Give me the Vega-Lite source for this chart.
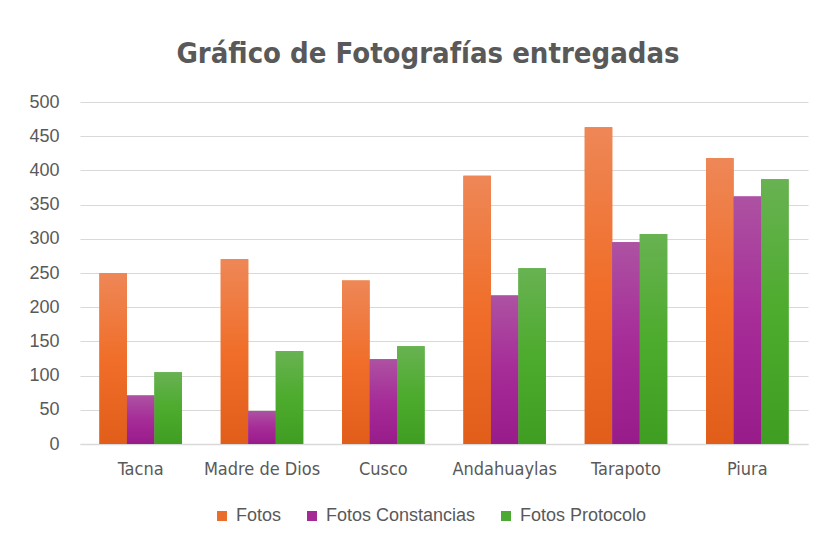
{
  "$schema": "https://vega.github.io/schema/vega-lite/v6.json",
  "autosize": {"type": "none"},
  "width": 728,
  "height": 342,
  "padding": {"left": 80, "top": 102, "right": 16, "bottom": 101},
  "background": "white",
  "config": {"view": {"stroke": null}},
  "title": {
    "text": "Gráfico de Fotografías entregadas",
    "font": "DejaVu Sans Condensed",
    "fontSize": 29,
    "fontWeight": "bold",
    "color": "#595959",
    "anchor": "middle",
    "dx": -16,
    "offset": 24
  },
  "data": {
    "values": [
      {"sede": "Tacna", "serie": "Fotos", "valor": 250},
      {"sede": "Tacna", "serie": "Fotos Constancias", "valor": 71},
      {"sede": "Tacna", "serie": "Fotos Protocolo", "valor": 105},
      {"sede": "Madre de Dios", "serie": "Fotos", "valor": 270},
      {"sede": "Madre de Dios", "serie": "Fotos Constancias", "valor": 48},
      {"sede": "Madre de Dios", "serie": "Fotos Protocolo", "valor": 136},
      {"sede": "Cusco", "serie": "Fotos", "valor": 239},
      {"sede": "Cusco", "serie": "Fotos Constancias", "valor": 124},
      {"sede": "Cusco", "serie": "Fotos Protocolo", "valor": 143},
      {"sede": "Andahuaylas", "serie": "Fotos", "valor": 392},
      {"sede": "Andahuaylas", "serie": "Fotos Constancias", "valor": 217},
      {"sede": "Andahuaylas", "serie": "Fotos Protocolo", "valor": 257},
      {"sede": "Tarapoto", "serie": "Fotos", "valor": 463},
      {"sede": "Tarapoto", "serie": "Fotos Constancias", "valor": 295},
      {"sede": "Tarapoto", "serie": "Fotos Protocolo", "valor": 307},
      {"sede": "Piura", "serie": "Fotos", "valor": 418},
      {"sede": "Piura", "serie": "Fotos Constancias", "valor": 362},
      {"sede": "Piura", "serie": "Fotos Protocolo", "valor": 387}
    ]
  },
  "encoding": {
    "x": {
      "field": "sede",
      "type": "nominal",
      "sort": null,
      "scale": {"paddingInner": 0.32, "paddingOuter": 0.16},
      "axis": {
        "title": null,
        "labelAngle": 0,
        "labelFont": "DejaVu Sans Condensed",
        "labelFontSize": 18,
        "labelColor": "#595959",
        "labelPadding": 16,
        "ticks": false,
        "domainColor": "#D9D9D9",
        "domainWidth": 1.5,
        "grid": false
      }
    },
    "xOffset": {
      "field": "serie",
      "type": "nominal",
      "scale": {"domain": ["Fotos", "Fotos Constancias", "Fotos Protocolo"], "paddingInner": 0, "paddingOuter": 0}
    },
    "y": {
      "field": "valor",
      "type": "quantitative",
      "scale": {"domain": [0, 500], "nice": false},
      "axis": {
        "title": null,
        "values": [0, 50, 100, 150, 200, 250, 300, 350, 400, 450, 500],
        "labelFont": "Liberation Sans",
        "labelFontSize": 18,
        "labelColor": "#595959",
        "labelPadding": 21,
        "ticks": false,
        "domain": false,
        "gridColor": "#D9D9D9",
        "gridWidth": 1.2
      }
    }
  },
  "layer": [
    {
      "mark": {"type": "bar"},
      "encoding": {
        "color": {
          "field": "serie",
          "type": "nominal",
          "scale": {"domain": ["Fotos", "Fotos Constancias", "Fotos Protocolo"], "range": ["#EA6E2A", "#A42A95", "#4EA934"]},
          "legend": {
            "title": null,
            "orient": "none",
            "direction": "horizontal",
            "legendX": 133,
            "legendY": 405,
            "symbolType": "square",
            "symbolSize": 100,
            "symbolStrokeWidth": 0,
            "labelFont": "Liberation Sans",
            "labelFontSize": 18,
            "labelColor": "#595959",
            "labelOffset": 5,
            "columnPadding": 21
          }
        }
      }
    },
    {
      "transform": [{"filter": "datum.serie === 'Fotos'"}],
      "mark": {
        "type": "bar",
        "fill": {"gradient": "linear", "x1": 0, "y1": 0, "x2": 0, "y2": 1,
          "stops": [{"offset": 0, "color": "#EE8757"}, {"offset": 0.5, "color": "#F06E29"}, {"offset": 1, "color": "#E05E1A"}]}
      }
    },
    {
      "transform": [{"filter": "datum.serie === 'Fotos Constancias'"}],
      "mark": {
        "type": "bar",
        "fill": {"gradient": "linear", "x1": 0, "y1": 0, "x2": 0, "y2": 1,
          "stops": [{"offset": 0, "color": "#AD52A2"}, {"offset": 0.5, "color": "#A62C98"}, {"offset": 1, "color": "#981B8A"}]}
      }
    },
    {
      "transform": [{"filter": "datum.serie === 'Fotos Protocolo'"}],
      "mark": {
        "type": "bar",
        "fill": {"gradient": "linear", "x1": 0, "y1": 0, "x2": 0, "y2": 1,
          "stops": [{"offset": 0, "color": "#68B252"}, {"offset": 0.5, "color": "#4DAB2D"}, {"offset": 1, "color": "#3F9E22"}]}
      }
    }
  ]
}
